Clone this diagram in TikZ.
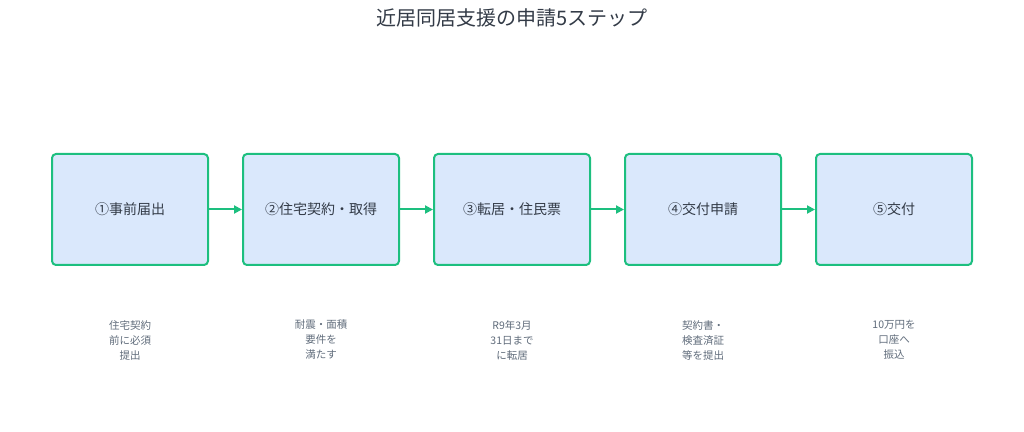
\documentclass[tikz,border=0pt]{standalone}
\usepackage{fontspec}
\setmainfont{Noto Sans CJK JP}
\usetikzlibrary{arrows.meta,positioning}
\definecolor{stepline}{HTML}{1DBF7F}
\definecolor{stepfill}{HTML}{DAE8FC}
\definecolor{steptext}{HTML}{333B47}
\definecolor{notetext}{HTML}{5F6B7A}
\tikzset{
    stepbox/.style={draw=stepline, line width=2pt, fill=stepfill, rounded corners=4pt,
        minimum width=156pt, minimum height=111pt, inner sep=0pt,
        font=\fontsize{14}{16}\selectfont, text=steptext},
    note/.style={align=center, font=\fontsize{10.5}{15}\selectfont, text=notetext},
    flow/.style={draw=stepline, line width=2pt, -{Triangle[length=8pt,width=8pt]}}
}
\begin{document}
\begin{tikzpicture}[x=1pt,y=1pt]
    \useasboundingbox (0,0) rectangle (1024,431);
    \node[font=\fontsize{20}{24}\selectfont, text=steptext] (title) at (512,413) {近居同居支援の申請5ステップ};
    \node[stepbox] (s1) at (130,221.5) {①事前届出};
    \node[stepbox] (s2) at (321,221.5) {②住宅契約・取得};
    \node[stepbox] (s3) at (512,221.5) {③転居・住民票};
    \node[stepbox] (s4) at (703,221.5) {④交付申請};
    \node[stepbox] (s5) at (894,221.5) {⑤交付};
    \draw[flow] (s1) -- (s2);
    \draw[flow] (s2) -- (s3);
    \draw[flow] (s3) -- (s4);
    \draw[flow] (s4) -- (s5);
    \node[note] (n1) at (130,91) {住宅契約\\前に必須\\提出};
    \node[note] (n2) at (321,91) {耐震・面積\\要件を\\満たす};
    \node[note] (n3) at (512,91) {R9年3月\\31日まで\\に転居};
    \node[note] (n4) at (703,91) {契約書・\\検査済証\\等を提出};
    \node[note] (n5) at (894,91) {10万円を\\口座へ\\振込};
\end{tikzpicture}
\end{document}
